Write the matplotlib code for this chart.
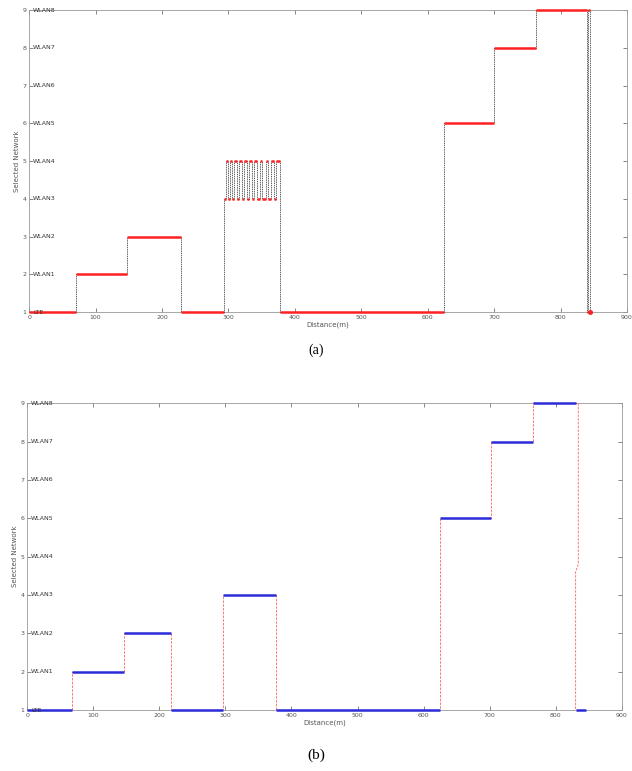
import matplotlib
matplotlib.use("Agg")
import matplotlib.pyplot as plt
import numpy as np

# panel (a): switching distances (m) and the network selected from that point on
a_dist = [0, 70, 148, 228, 293, 296, 299, 302, 306, 309, 313, 316, 320, 324,
          328, 331, 335, 339, 343, 347, 351, 356, 360, 364, 368, 372, 377,
          625, 700, 763, 840, 842, 845, 848]
a_net = [1, 2, 3, 1, 4, 5, 4, 5, 4, 5, 4, 5, 4, 5,
         4, 5, 4, 5, 4, 5, 4, 5, 4, 5, 4, 5, 1,
         6, 8, 9, 1, 9, 1, 1]

# panel (b)
b_dist = [0, 68, 147, 218, 297, 377, 625, 702, 765, 830, 845]
b_net = [1, 2, 3, 1, 4, 1, 6, 8, 9, 1, 1]
# the last drop is drawn with a small jog
b_drop_x = [834, 834, 830, 830]
b_drop_y = [9, 4.8, 4.6, 1]

net_names = ["LTE", "WLAN1", "WLAN2", "WLAN3", "WLAN4",
             "WLAN5", "WLAN6", "WLAN7", "WLAN8"]
xticks = list(range(0, 1000, 100))
yticks = list(range(1, 10))

fig = plt.figure(figsize=(6.32, 7.71), dpi=100)
ax1 = fig.add_axes([0.046, 0.5953, 0.946, 0.3917])
ax2 = fig.add_axes([0.043, 0.0791, 0.941, 0.398])

grey = "#555555"


def style(ax):
    ax.set_xlim(0, 900)
    ax.set_ylim(1, 9)
    ax.set_xticks(xticks)
    ax.set_yticks(yticks)
    ax.tick_params(direction="in", length=3, width=0.5, labelsize=4.5,
                   colors=grey, top=True, right=True, pad=2)
    for s in ax.spines.values():
        s.set_color("#999999")
        s.set_linewidth(0.6)
    ax.set_xlabel("Distance(m)", fontsize=5, color=grey, labelpad=1)
    ax.set_ylabel("Selected Network", fontsize=5, color=grey, labelpad=2)
    for lvl, name in zip(yticks, net_names):
        ax.text(6, lvl, name, fontsize=4.5, color="#333333", va="center",
                ha="left", zorder=6)


# (a) red plateaus, black dashed switches
x = np.array(a_dist)
y = np.array(a_net)
ax1.plot(x, y, drawstyle="steps-post", color="#222222", ls=(0, (2, 1.2)),
         lw=0.5, clip_on=False, zorder=3)
ax1.hlines(y[:-1], x[:-1], x[1:], color="#ff2020", lw=1.8, clip_on=False,
           zorder=4)
ax1.plot([845], [1], "o", color="#ff2020", ms=2.5, clip_on=False, zorder=4)
style(ax1)

# (b) blue plateaus, red dashed switches
bx = np.array(b_dist)
by = np.array(b_net)
dash_b = (0, (3, 1.5))
ax2.plot(bx[:-2], by[:-2], drawstyle="steps-post", color="#ff6060",
         ls=dash_b, lw=0.6, zorder=3)
ax2.plot([bx[-3], b_drop_x[0]], [by[-3], by[-3]], color="#ff6060",
         ls=dash_b, lw=0.6, zorder=3)
ax2.plot(b_drop_x, b_drop_y, color="#ff6060", ls=dash_b, lw=0.6, zorder=3)
ax2.hlines(by[:-2], bx[:-2], bx[1:-1], color="#2a2ad8", lw=1.8,
           clip_on=False, zorder=4)
ax2.hlines(by[-2], bx[-2], bx[-1], color="#2a2ad8", lw=1.8, clip_on=False,
           zorder=4)
style(ax2)

fig.text(0.5, 0.546, "(a)", ha="center", va="center", fontsize=10,
         family="Liberation Serif")
fig.text(0.5, 0.021, "(b)", ha="center", va="center", fontsize=11,
         family="Liberation Serif")

fig.savefig("out.png", dpi=100)
